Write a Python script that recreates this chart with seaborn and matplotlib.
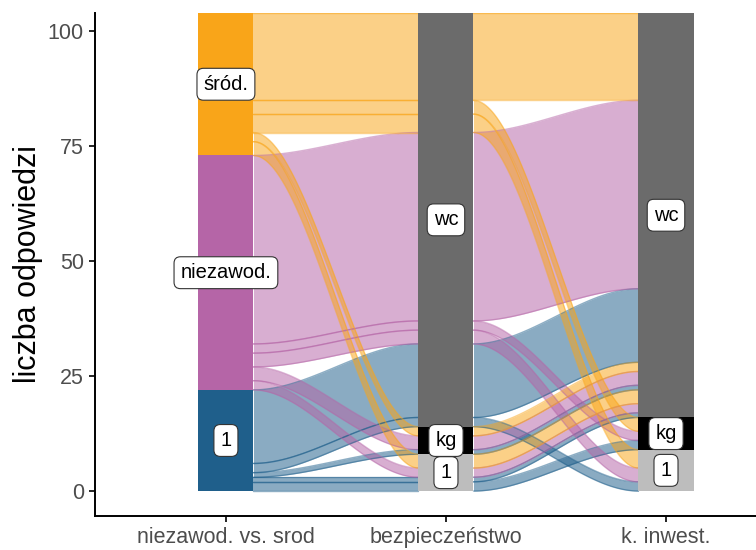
import numpy as np
import pandas as pd
import seaborn as sns
import matplotlib.pyplot as plt

# Osie (zmienne) i poziomy od dołu do góry
osie = ['niezawod. vs. srod', 'bezpieczeństwo', 'k. inwest.']
poziomy_1 = ['1', 'niezawod.', 'śród.']
poziomy_2 = ['1', 'kg', 'wc']
poziomy_3 = ['1', 'kg', 'wc']

# Ścieżki odpowiedzi (alluvia) i ich liczności
a1 = ['1', '1', '1', '1', '1',
      'niezawod.', 'niezawod.', 'niezawod.', 'niezawod.', 'niezawod.',
      'śród.', 'śród.', 'śród.', 'śród.', 'śród.']
a2 = ['1', '1', 'kg', 'wc', 'wc',
      '1', 'kg', 'wc', 'wc', 'wc',
      '1', 'kg', 'wc', 'wc', 'wc']
a3 = ['kg', 'wc', 'wc', '1', 'wc',
      'wc', 'wc', '1', 'kg', 'wc',
      'wc', 'wc', '1', 'kg', 'wc']
liczba = [2, 1, 1, 2, 16,
          2, 3, 3, 2, 41,
          3, 2, 4, 3, 19]

kolory_1 = {'1': '#1f5f8b', 'niezawod.': '#b565a7', 'śród.': '#f9a519'}
kolory_23 = {'1': '#bdbdbd', 'kg': '#000000', 'wc': '#6b6b6b'}

df = pd.DataFrame({'a1': a1, 'a2': a2, 'a3': a3, 'n': liczba})
df['r1'] = df['a1'].map({p: i for i, p in enumerate(poziomy_1)})
df['r2'] = df['a2'].map({p: i for i, p in enumerate(poziomy_2)})
df['r3'] = df['a3'].map({p: i for i, p in enumerate(poziomy_3)})

# kolejność lodów na każdej osi (zigzag jak w ggalluvial)
kolejnosc = {1: ['r1', 'r2', 'r3'], 2: ['r2', 'r1', 'r3'], 3: ['r3', 'r2', 'r1']}
for k, klucz in kolejnosc.items():
    s = df.sort_values(klucz)
    top = s['n'].cumsum()
    df.loc[s.index, f'hi{k}'] = top
    df.loc[s.index, f'lo{k}'] = top - s['n']

sns.set_theme(style='ticks')
plt.rcParams['font.family'] = ['Liberation Sans', 'DejaVu Sans']

fig = plt.figure(figsize=(7.56, 5.5), dpi=100)
ax = fig.add_axes([95 / 756, 34 / 550, 661 / 756, 503 / 550])

w = 0.25
t = np.linspace(0, 1, 80)
s_krzywa = 3 * t ** 2 - 2 * t ** 3

# przepływy
for _, r in df.iterrows():
    c = kolory_1[r['a1']]
    for k in [1, 2]:
        x = (k + w / 2) + (1 - w) * t
        lo = r[f'lo{k}'] + (r[f'lo{k+1}'] - r[f'lo{k}']) * s_krzywa
        hi = r[f'hi{k}'] + (r[f'hi{k+1}'] - r[f'hi{k}']) * s_krzywa
        ax.fill_between(x, lo, hi, color=c, alpha=0.52, lw=0)
        ax.plot(x, lo, color=c, alpha=0.5, lw=1)
        ax.plot(x, hi, color=c, alpha=0.5, lw=1)

# warstwy (strata) z etykietami
for k, (kol, poziomy) in enumerate([('a1', poziomy_1), ('a2', poziomy_2), ('a3', poziomy_3)], start=1):
    suma = df.groupby(kol)['n'].sum().reindex(poziomy)
    dol = suma.cumsum() - suma
    kolory = kolory_1 if k == 1 else kolory_23
    for p in poziomy:
        ax.bar(k, suma[p], bottom=dol[p], width=w, color=kolory[p], lw=0, zorder=3)
        ax.text(k, dol[p] + suma[p] / 2, p, ha='center', va='center', fontsize=14.5,
                color='black', zorder=4,
                bbox=dict(boxstyle='round,pad=0.32', fc='white', ec='#333333', lw=0.8))

ax.set_xlim(0.405, 3.409)
ax.set_ylim(-5.43, 104)
ax.set_xticks([1, 2, 3])
ax.set_xticklabels(osie)
ax.set_yticks([0, 25, 50, 75, 100])
ax.tick_params(axis='both', length=4, width=1.2, color='black', labelcolor='#4d4d4d',
               labelsize=15.5, pad=4)
ax.set_ylabel('liczba odpowiedzi', fontsize=22, color='black')
ax.yaxis.set_label_coords(-0.079, 0.5)
sns.despine(ax=ax)
for sp in ['left', 'bottom']:
    ax.spines[sp].set_linewidth(1.4)
    ax.spines[sp].set_color('black')
ax.grid(False)

fig.savefig('out.png', dpi=100)
